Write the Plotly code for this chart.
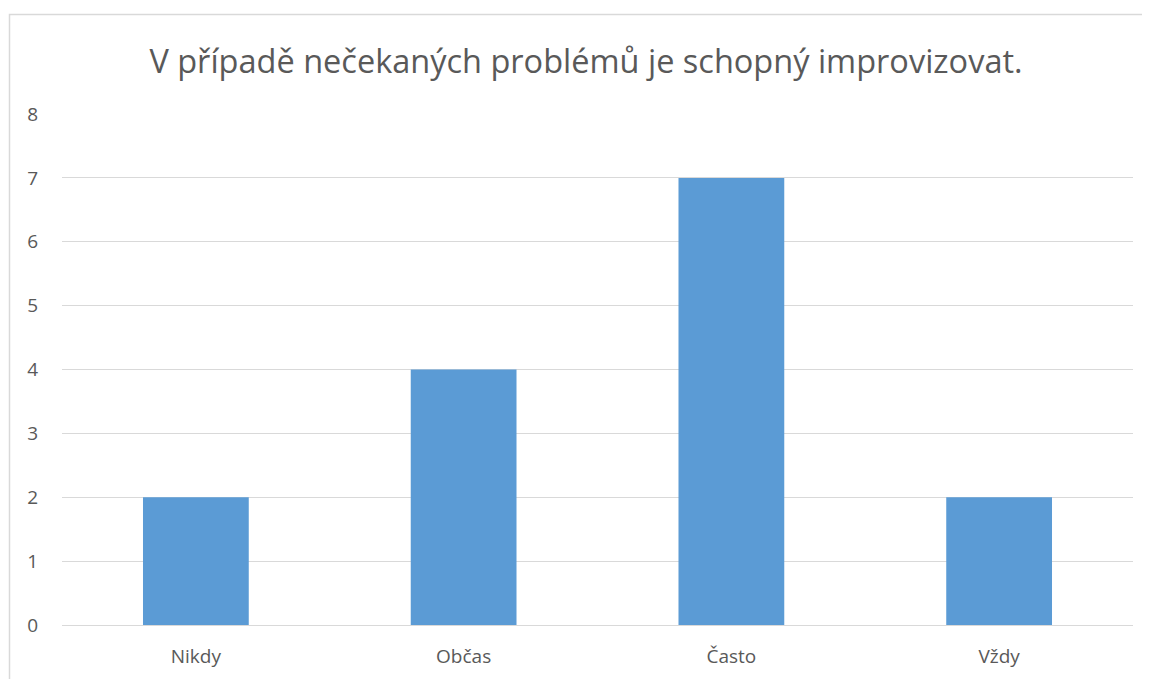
import plotly.graph_objects as go

categories = ["Nikdy", "Občas", "Často", "Vždy"]
values = [2, 4, 7, 2]
y_ticks = [0, 1, 2, 3, 4, 5, 6, 7, 8]
title_text = "V případě nečekaných problémů je schopný improvizovat."

# page has an 8px body margin, so the figure is drawn 8px smaller and offset
W, H = 1142, 671
L, R, T, B = 54, 17, 106, 54
pw, ph = W - L - R, H - T - B

fig = go.Figure(go.Bar(x=categories, y=values, marker_color="#5B9BD5",
                       marker_line_width=0, width=0.395))

def px_x(x):
    return (x - L) / pw

def px_y(y):
    return (H - B - y) / ph

fig.add_shape(type="path", xref="paper", yref="paper",
              path=f"M {px_x(1.5)} {px_y(H + 20)} L {px_x(1.5)} {px_y(6.5)} L {px_x(W + 20)} {px_y(6.5)}",
              line=dict(color="#d9d9d9", width=1.5), layer="below")

fig.update_layout(
    width=W, height=H,
    margin=dict(l=L, r=R, t=T, b=B, pad=0, autoexpand=False),
    paper_bgcolor="white", plot_bgcolor="white",
    font=dict(family="Open Sans, Calibri, sans-serif", color="#595959"),
    title=dict(text=title_text, xref="paper", x=px_x(578), xanchor="center",
               y=1 - 54 / H, yanchor="middle",
               font=dict(size=32.5, color="#595959")),
    showlegend=False,
    xaxis=dict(showgrid=False, showline=False, ticks="", tickfont=dict(size=19),
               ticklabelstandoff=18, automargin=False),
    yaxis=dict(range=[0, 8], tickvals=y_ticks, showgrid=True, gridcolor="#d9d9d9",
               gridwidth=1, zeroline=True, zerolinecolor="#d9d9d9", zerolinewidth=1,
               tickfont=dict(size=19), ticks="", ticklabelstandoff=23, automargin=False),
)

fig.write_html("out.html")
